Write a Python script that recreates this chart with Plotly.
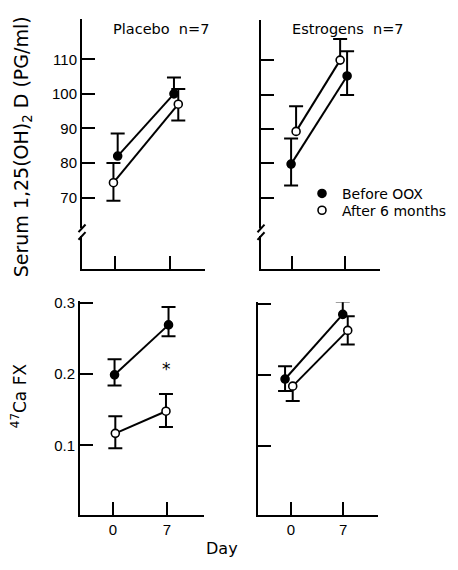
import plotly.graph_objects as go

# ---------------- data ----------------
day_ticks = [0, 7]
serum_ticks = [70, 80, 90, 100, 110]
ca_ticks = [0.1, 0.2, 0.3]
ca_ticklabels = ["0.1", "0.2", "0.3"]

# Placebo, serum 1,25(OH)2D
pl_serum_before_x = [0.34, 7.5]
pl_serum_before = [82.0, 100.0]
pl_serum_before_up = [6.5, 4.7]
pl_serum_before_dn = [0.0, 0.0]
pl_serum_after_x = [-0.2, 8.05]
pl_serum_after = [74.3, 97.0]
pl_serum_after_up = [5.7, 4.4]
pl_serum_after_dn = [5.2, 4.7]

# Estrogens, serum 1,25(OH)2D
es_serum_before_x = [-0.13, 7.26]
es_serum_before = [79.8, 105.4]
es_serum_before_up = [7.4, 7.2]
es_serum_before_dn = [6.2, 5.5]
es_serum_after_x = [0.53, 6.34]
es_serum_after = [89.3, 110.0]
es_serum_after_up = [7.3, 6.1]
es_serum_after_dn = [0.0, 0.0]

# Placebo, 47Ca FX
pl_ca_before_x = [0.2, 7.2]
pl_ca_before = [0.199, 0.269]
pl_ca_before_up = [0.022, 0.025]
pl_ca_before_dn = [0.015, 0.016]
pl_ca_after_x = [0.3, 6.87]
pl_ca_after = [0.117, 0.148]
pl_ca_after_up = [0.024, 0.024]
pl_ca_after_dn = [0.021, 0.022]

# Estrogens, 47Ca FX
es_ca_before_x = [-0.8, 6.96]
es_ca_before = [0.194, 0.285]
es_ca_before_up = [0.018, 0.018]
es_ca_before_dn = [0.017, 0.0]
es_ca_after_x = [0.23, 7.63]
es_ca_after = [0.184, 0.2625]
es_ca_after_up = [0.0, 0.02]
es_ca_after_dn = [0.021, 0.02]

# significance mark (Placebo, day 7)
sig_x = [7.0]
sig_y = [0.205]

series_names = ["Before OOX", "After 6 months"]

# ---------------- layout geometry ----------------
W, H = 458, 570
FONT = "DejaVu Sans"
TICKFONT = "Liberation Sans"

panels = {
    # name: (x px left, x px right, y px top, y px bottom, xrange, yrange)
    "tl": (82, 205, 12, 265, [-4.2, 11.45], [49.4, 121.7]),
    "tr": (261, 380, 13, 265, [-4.1, 11.6], [49.4, 121.7]),
    "bl": (80, 204, 298, 514, [-4.28, 11.8], [0.003, 0.302]),
    "br": (258, 378, 299, 514, [-4.44, 11.7], [0.003, 0.302]),
}
axis_ids = {"tl": ("x", "y"), "tr": ("x2", "y2"), "bl": ("x3", "y3"), "br": ("x4", "y4")}

CAP_PX = 7

fig = go.Figure()


def err_path(xs, ys, up, dn, cap):
    X, Y = [], []
    for x, y, p, m in zip(xs, ys, up, dn):
        if p > 0:
            X += [x, x, None, x - cap, x + cap, None]
            Y += [y, y + p, None, y + p, y + p, None]
        if m > 0:
            X += [x, x, None, x - cap, x + cap, None]
            Y += [y, y - m, None, y - m, y - m, None]
    return X, Y


def add_panel(key, series):
    xl, xr, yt, yb, xrng, yrng = panels[key]
    xa, ya = axis_ids[key]
    cap = CAP_PX * (xrng[1] - xrng[0]) / (xr - xl)
    for (xs, ys, up, dn, filled) in series:
        ex, ey = err_path(xs, ys, up, dn, cap)
        fig.add_trace(go.Scatter(x=ex, y=ey, mode="lines", xaxis=xa, yaxis=ya,
                                 line=dict(color="black", width=2),
                                 showlegend=False, hoverinfo="skip"))
    for (xs, ys, up, dn, filled) in series:
        fig.add_trace(go.Scatter(x=xs, y=ys, mode="lines+markers", xaxis=xa, yaxis=ya,
                                 line=dict(color="black", width=2),
                                 marker=dict(size=8, color="black" if filled else "white",
                                             line=dict(color="black", width=1.6)),
                                 showlegend=False))


add_panel("tl", [
    (pl_serum_before_x, pl_serum_before, pl_serum_before_up, pl_serum_before_dn, True),
    (pl_serum_after_x, pl_serum_after, pl_serum_after_up, pl_serum_after_dn, False),
])
add_panel("tr", [
    (es_serum_before_x, es_serum_before, es_serum_before_up, es_serum_before_dn, True),
    (es_serum_after_x, es_serum_after, es_serum_after_up, es_serum_after_dn, False),
])
add_panel("bl", [
    (pl_ca_before_x, pl_ca_before, pl_ca_before_up, pl_ca_before_dn, True),
    (pl_ca_after_x, pl_ca_after, pl_ca_after_up, pl_ca_after_dn, False),
])
add_panel("br", [
    (es_ca_before_x, es_ca_before, es_ca_before_up, es_ca_before_dn, True),
    (es_ca_after_x, es_ca_after, es_ca_after_up, es_ca_after_dn, False),
])

# legend entries (markers only), one legend each so the rows can sit closer
fig.add_trace(go.Scatter(x=[None], y=[None], mode="markers", xaxis="x2", yaxis="y2",
                         name=series_names[0], legend="legend",
                         marker=dict(size=8, color="black", line=dict(color="black", width=1.6))))
fig.add_trace(go.Scatter(x=[None], y=[None], mode="markers", xaxis="x2", yaxis="y2",
                         name=series_names[1], legend="legend2",
                         marker=dict(size=8, color="white", line=dict(color="black", width=1.6))))

leg_common = dict(xanchor="left", yanchor="top", bgcolor="rgba(0,0,0,0)",
                  font=dict(family=FONT, size=14), itemwidth=30)

layout = dict(width=W, height=H, margin=dict(l=0, r=0, t=0, b=0),
              paper_bgcolor="white", plot_bgcolor="white",
              font=dict(family=FONT, color="black", size=14),
              legend=dict(x=302 / W, y=1 - 173 / H, **leg_common),
              legend2=dict(x=302 / W, y=1 - 190 / H, **leg_common))

for key, (xl, xr, yt, yb, xrng, yrng) in panels.items():
    xa, ya = axis_ids[key]
    xname = "xaxis" + xa[1:]
    yname = "yaxis" + ya[1:]
    bottom = key in ("bl", "br")
    left = key in ("tl", "bl")
    layout[xname] = dict(domain=[xl / W, xr / W], range=xrng, anchor=ya,
                         tickvals=day_ticks, ticktext=[str(d) for d in day_ticks],
                         ticks="inside", ticklen=13, tickwidth=2, tickcolor="black",
                         showticklabels=bottom, tickfont=dict(family=TICKFONT, size=15),
                         showline=True, linewidth=2, linecolor="black",
                         showgrid=False, zeroline=False, fixedrange=True)
    yd = dict(domain=[1 - yb / H, 1 - yt / H], range=yrng, anchor=xa,
              ticks="inside", ticklen=13, tickwidth=2, tickcolor="black",
              showticklabels=left, tickfont=dict(family=TICKFONT, size=15),
              showline=True, linewidth=2, linecolor="black",
              showgrid=False, zeroline=False, fixedrange=True)
    if bottom:
        yd.update(tickvals=ca_ticks, ticktext=ca_ticklabels)
    else:
        yd.update(tickvals=serum_ticks, ticktext=[str(v) for v in serum_ticks])
    layout[yname] = yd

fig.update_layout(**layout)

# axis breaks on the serum panels
for key in ("tl", "tr"):
    xa, ya = axis_ids[key]
    xref = xa + " domain"
    fig.add_shape(type="rect", xref=xref, yref=ya, xsizemode="pixel", xanchor=0,
                  x0=-5, x1=5, y0=58.9, y1=61.1, fillcolor="white",
                  line=dict(width=0), layer="above")
    for yc in (61.1, 58.9):
        fig.add_shape(type="line", xref=xref, yref=ya, xsizemode="pixel", xanchor=0,
                      x0=-3.5, x1=3.5, y0=yc - 1.1, y1=yc + 1.1,
                      line=dict(color="black", width=2), layer="above")

C = dict(xanchor="center", yanchor="middle", showarrow=False)
ann = [
    dict(text="Placebo  n=7", x=161 / W, y=1 - 22 / H, xref="paper", yref="paper",
         font=dict(size=14.5), **C),
    dict(text="Estrogens  n=7", x=348 / W, y=1 - 22 / H, xref="paper", yref="paper",
         font=dict(size=14.5), **C),
    dict(text="Serum 1,25(OH)<sub>2</sub> D (PG/ml)", x=22 / W, y=1 - 142 / H,
         xref="paper", yref="paper", textangle=-90, font=dict(size=19), **C),
    dict(text="<sup>47</sup>Ca FX", x=19 / W, y=1 - 394 / H,
         xref="paper", yref="paper", textangle=-90, font=dict(size=17), **C),
    dict(text="Day", x=222 / W, y=1 - 548 / H, xref="paper", yref="paper",
         font=dict(size=16), **C),
    dict(text="*", x=sig_x[0], y=sig_y[0], xref="x3", yref="y3",
         yshift=2, font=dict(size=17), **C),
]
fig.update_layout(annotations=ann)

fig.write_html("out.html", config={"displayModeBar": False},
               post_script="document.body.style.margin='0';")
